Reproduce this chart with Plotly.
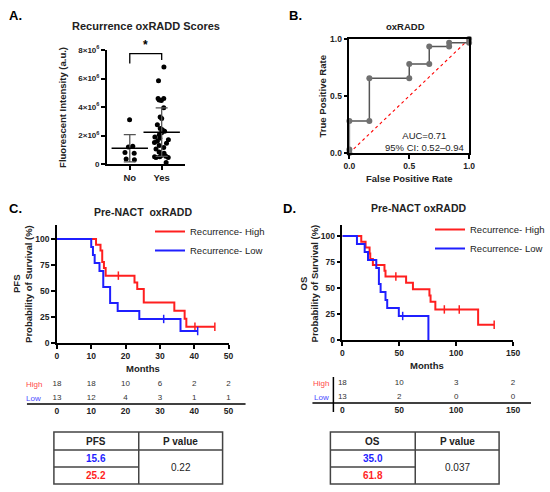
import numpy as np
import plotly.graph_objects as go

W, H = 550, 492
FONT = "Arial, Liberation Sans, sans-serif"
RED = "#ff1f1f"
BLUE = "#1f1fff"

# ---------------- data ----------------
# A. recurrence oxRADD scores (units of 10^6 a.u.)
groups = ["No", "Yes"]
no_scores = [3.1, 1.25, 1.2, 0.8, 0.75, 0.35, 0.3]
yes_scores = [6.8, 5.85, 4.6, 4.6, 4.5, 4.45, 3.95, 3.3, 3.2, 2.75, 2.5, 2.4, 2.3,
              2.2, 2.05, 1.9, 1.8, 1.7, 1.6, 1.5, 1.45, 1.3, 1.15, 1.05, 0.85,
              0.75, 0.6, 0.55, 0.5, 0.5, 0.45, 0.45, 0.1]

# B. ROC curve
roc_fpr = [0, 0, 0, 0.167, 0.167, 0.5, 0.5, 0.667, 0.667, 0.833, 0.833, 1, 1]
roc_tpr = [0, 0.03, 0.28, 0.28, 0.655, 0.655, 0.78, 0.78, 0.935, 0.935, 0.968, 0.968, 1.0]
auc_label = "AUC=0.71<br>95% CI: 0.52\u20130.94"

# C. PFS Kaplan-Meier
pfs_high_t = [0, 11.4, 12.7, 13.2, 13.7, 14.2, 22.6, 23.4, 25.3, 34.2, 37.2, 37.7, 46.0]
pfs_high_s = [100, 94.4, 88.9, 77.8, 72.2, 64.8, 58.3, 51.9, 38.9, 31.1, 23.3, 15.6, 15.6]
pfs_high_cens_t = [17.9, 40.2, 46.0]
pfs_high_cens_s = [64.8, 15.6, 15.6]
pfs_low_t = [0, 10.0, 10.5, 11.0, 12.4, 13.5, 15.5, 17.7, 24.0, 36.0, 41.0]
pfs_low_s = [100, 92.3, 84.6, 76.9, 69.2, 53.8, 38.5, 30.8, 23.1, 11.5, 11.5]
pfs_low_cens_t = [31.1, 41.0]
pfs_low_cens_s = [23.1, 11.5]
pfs_risk_months = [0, 10, 20, 30, 40, 50]
pfs_risk_high = [18, 18, 10, 6, 2, 2]
pfs_risk_low = [13, 12, 4, 3, 1, 1]
pfs_medians = ["15.6", "25.2"]
pfs_p = "0.22"

# D. OS Kaplan-Meier
os_high_t = [0, 16.6, 20.4, 23.9, 24.5, 26.8, 37.0, 37.9, 56.0, 62.0, 76.5, 77.5, 81.7, 119.3, 133.4]
os_high_s = [100, 94.4, 88.9, 83.3, 77.8, 72.2, 66.7, 61.1, 55.0, 48.9, 42.8, 36.7, 29.4, 14.7, 14.7]
os_high_cens_t = [47.0, 89.6, 102.7, 133.4]
os_high_cens_s = [61.1, 29.4, 29.4, 14.7]
os_low_t = [0, 12.8, 19.6, 22.5, 29.8, 32.1, 33.6, 37.9, 39.4, 49.6, 75.6]
os_low_s = [100, 92.3, 84.6, 76.9, 69.2, 53.8, 46.2, 38.5, 30.8, 23.1, 0]
os_low_cens_t = [53.0]
os_low_cens_s = [23.1]
os_risk_months = [0, 50, 100, 150]
os_risk_high = [18, 10, 3, 2]
os_risk_low = [13, 2, 0, 0]
os_medians = ["35.0", "61.8"]
os_p = "0.037"


def fx(p):
    return p / W


def fy(p):
    return 1 - p / H


axis_style = dict(showline=True, linecolor="black", linewidth=1.5, ticks="outside",
                  ticklen=4, tickwidth=1.5, tickcolor="black", showgrid=False,
                  zeroline=False, automargin=False,
                  tickfont=dict(family=FONT, size=8.5, color="#222", weight=700))

fig = go.Figure()

# ---------------- A ----------------
for i, vals in enumerate([no_scores, yes_scores]):
    fig.add_trace(go.Box(x=[i] * len(vals), y=np.array(vals) * 1e6, boxpoints="all",
                         jitter=0.9, pointpos=0, width=0.62, orientation="v",
                         fillcolor="rgba(0,0,0,0)", line=dict(width=0, color="rgba(0,0,0,0)"),
                         marker=dict(color="black", size=5), showlegend=False,
                         xaxis="x", yaxis="y"))
means = [np.mean(no_scores) * 1e6, np.mean(yes_scores) * 1e6]
sds = [np.std(no_scores, ddof=1) * 1e6, np.std(yes_scores, ddof=1) * 1e6]
fig.add_trace(go.Scatter(x=[0, 1], y=means, mode="markers", showlegend=False,
                         marker=dict(symbol="line-ew", size=26, line=dict(width=1.5, color="black")),
                         error_y=dict(type="data", array=sds, color="#555", thickness=1.3, width=6),
                         xaxis="x", yaxis="y"))

fig.update_layout(
    xaxis=dict(axis_style, domain=[fx(107), fx(185)], range=[-0.72, 1.72], tickvals=[0, 1],
               ticktext=groups, anchor="y",
               tickfont=dict(family=FONT, size=9.5, color="#222", weight=700)),
    yaxis=dict(axis_style, domain=[fy(164), fy(50)], range=[0, 8e6], anchor="x",
               tickvals=[0, 2e6, 4e6, 6e6, 8e6],
               ticktext=["0"] + [f"{k}\u00d710<sup>6</sup>" for k in (2, 4, 6, 8)],
               tickfont=dict(family=FONT, size=8, color="#222", weight=700)),
)
fig.add_shape(type="path", xref="x", yref="y", line=dict(color="black", width=1.3),
              path=f"M 0,{7.05e6} L 0,{7.75e6} L 1,{7.75e6} L 1,{7.3e6}")

# ---------------- B ----------------
fig.add_trace(go.Scatter(x=[0, 1], y=[0, 1], mode="lines", showlegend=False,
                         line=dict(color="red", width=1.1, dash="dot"), xaxis="x2", yaxis="y2"))
fig.add_trace(go.Scatter(x=roc_fpr, y=roc_tpr, mode="lines+markers", showlegend=False,
                         line=dict(color="#555", width=1.5),
                         marker=dict(color="#707070", size=6), cliponaxis=False,
                         xaxis="x2", yaxis="y2"))
fig.update_layout(
    xaxis2=dict(axis_style, domain=[fx(350), fx(470)], range=[0, 1], mirror=True, anchor="y2",
                tickvals=[0, 0.5, 1], ticktext=["0.0", "0.5", "1.0"]),
    yaxis2=dict(axis_style, domain=[fy(153), fy(39)], range=[0, 1], mirror=True, anchor="x2",
                tickvals=[0, 0.5, 1], ticktext=["0.0", "0.5", "1.0"]),
)


# ---------------- C / D survival ----------------
def km(t, s, ct, cs, color, name, xa, ya, lg):
    fig.add_trace(go.Scatter(x=t, y=s, mode="lines", line_shape="hv", name=name,
                             line=dict(color=color, width=2), legend=lg, cliponaxis=False,
                             xaxis=xa, yaxis=ya))
    fig.add_trace(go.Scatter(x=ct, y=cs, mode="markers", showlegend=False, cliponaxis=False,
                             marker=dict(symbol="line-ns-open", size=6, color=color,
                                         line=dict(color=color, width=1.5)),
                             xaxis=xa, yaxis=ya))


km(pfs_high_t, pfs_high_s, pfs_high_cens_t, pfs_high_cens_s, RED, "Recurrence- High", "x3", "y3", "legend")
km(pfs_low_t, pfs_low_s, pfs_low_cens_t, pfs_low_cens_s, BLUE, "Recurrence- Low", "x3", "y3", "legend")
km(os_high_t, os_high_s, os_high_cens_t, os_high_cens_s, RED, "Recurrence- High", "x4", "y4", "legend2")
km(os_low_t, os_low_s, os_low_cens_t, os_low_cens_s, BLUE, "Recurrence- Low", "x4", "y4", "legend2")

legend_style = dict(font=dict(family=FONT, size=9.5, color="#222"), bgcolor="rgba(0,0,0,0)",
                    itemwidth=30, tracegroupgap=0, xanchor="left", yanchor="top")
fig.update_layout(
    legend=dict(legend_style, x=fx(150), y=fy(217)),
    legend2=dict(legend_style, x=fx(431), y=fy(215)),
    xaxis3=dict(axis_style, domain=[fx(57), fx(229)], range=[0, 50], dtick=10, anchor="y3"),
    yaxis3=dict(axis_style, domain=[fy(343), fy(225)], range=[0, 113.5], anchor="x3",
                tickvals=[0, 25, 50, 75, 100]),
    xaxis4=dict(axis_style, domain=[fx(343), fx(514)], range=[0, 150], dtick=50, anchor="y4"),
    yaxis4=dict(axis_style, domain=[fy(340), fy(225)], range=[0, 110.6], anchor="x4",
                tickvals=[0, 25, 50, 75, 100]),
)


# risk tables
def risk(months, high, low, xa, ya, dom, rng):
    for vals, yrow in ((high, 2.0), (low, 0.6)):
        fig.add_trace(go.Scatter(x=months, y=[yrow] * len(months), text=[str(v) for v in vals],
                                 mode="text", showlegend=False, cliponaxis=False,
                                 textfont=dict(family=FONT, size=8, color="#333"),
                                 xaxis=xa, yaxis=ya))
    fig.update_layout({
        "xaxis" + xa[1:]: dict(domain=dom, range=rng, tickvals=months, showline=False,
                               showgrid=False, zeroline=False, ticks="", anchor=ya,
                               automargin=False,
                               tickfont=dict(family=FONT, size=8.5, color="#222", weight=700)),
    })


risk(pfs_risk_months, pfs_risk_high, pfs_risk_low, "x5", "y5", [fx(57), fx(229)], [0, 50])
risk(os_risk_months, os_risk_high, os_risk_low, "x6", "y6", [fx(343), fx(514)], [0, 150])
fig.update_layout(
    yaxis5=dict(domain=[fy(404), fy(376)], range=[0, 2.8], visible=False, anchor="x5",
                automargin=False),
    yaxis6=dict(domain=[fy(403), fy(375)], range=[0, 2.8], visible=False, anchor="x6",
                automargin=False),
)

shapes = []


def pline(x0, y0, x1, y1, w=1.5, c="black"):
    shapes.append(dict(type="line", xref="paper", yref="paper", x0=fx(x0), y0=fy(y0),
                       x1=fx(x1), y1=fy(y1), line=dict(color=c, width=w)))


pline(47, 378, 47, 413)
pline(27, 404, 246, 404)
pline(334, 377, 334, 412)
pline(313, 403, 532, 403)

annotations = []


def text(x, y, s, size=10, bold=False, color="#222", angle=0, xanchor="center"):
    annotations.append(dict(x=fx(x), y=fy(y), xref="paper", yref="paper", text=s,
                            showarrow=False, textangle=angle, xanchor=xanchor, yanchor="middle",
                            font=dict(family=FONT, size=size, color=color,
                                      weight=700 if bold else 400)))


# median tables
def table(x0, xm, x1, y0, yh, ym, y1, head, meds, p):
    c = "#444"
    shapes.append(dict(type="rect", xref="paper", yref="paper", x0=fx(x0), x1=fx(x1),
                       y0=fy(y0), y1=fy(y1), line=dict(color=c, width=1.5)))
    pline(x0, yh, x1, yh, c=c)
    pline(xm, y0, xm, y1, c=c)
    pline(x0, ym, xm, ym, c=c)
    text((x0 + xm) / 2, (y0 + yh) / 2, head, 10, True)
    text((xm + x1) / 2, (y0 + yh) / 2, "P value", 10, True)
    text((x0 + xm) / 2, (yh + ym) / 2, meds[0], 10, True, BLUE)
    text((x0 + xm) / 2, (ym + y1) / 2, meds[1], 10, True, RED)
    text((xm + x1) / 2, (yh + y1) / 2, p, 10)


table(54, 139, 223, 432, 450, 467, 484, "PFS", pfs_medians, pfs_p)
table(331, 416, 500, 432, 450, 467, 484, "OS", os_medians, os_p)

# labels and titles
text(7, 15, "A.", 13, True, "black", xanchor="left")
text(288, 15, "B.", 13, True, "black", xanchor="left")
text(7, 208, "C.", 13, True, "black", xanchor="left")
text(282, 208, "D.", 13, True, "black", xanchor="left")
text(146, 26, "Recurrence oxRADD Scores", 11, True)
text(406, 26, "oxRADD", 9.5, True)
text(143, 212, "Pre-NACT  oxRADD", 10.5, True)
text(420, 208, "Pre-NACT oxRADD", 10.5, True)
text(62, 107, "Fluorescent Intensity (a.u.)", 9.5, True, angle=-90)
text(324, 96, "True Positive Rate", 9.5, True, angle=-90)
text(410, 178, "False Positive Rate", 9.5, True)
text(425, 142, auc_label, 9.5)
text(16, 284, "PFS", 9.5, True, angle=-90)
text(28, 284, "Probability of Survival (%)", 9.5, True, angle=-90)
text(304, 283, "OS", 9.5, True, angle=-90)
text(315, 283, "Probability of Survival (%)", 9.5, True, angle=-90)
text(143, 368, "Months", 9.5, True)
text(428, 365, "Months", 9.5, True)
text(34, 384, "High", 8, color="#ff4a4a")
text(34, 398, "Low", 8, color="#4a4aff")
text(322, 383, "High", 8, color="#ff4a4a")
text(322, 397, "Low", 8, color="#4a4aff")

fig.update_layout(
    width=W, height=H, margin=dict(l=0, r=0, t=0, b=0, pad=0),
    paper_bgcolor="white", plot_bgcolor="white",
    font=dict(family=FONT), shapes=shapes, annotations=annotations,
)
fig.add_annotation(x=0.5, y=7.75e6, xref="x", yref="y", text="*", showarrow=False,
                   yanchor="bottom", font=dict(family=FONT, size=12, color="black", weight=700))

# page body has a default 8px margin, drop it so the figure fills the window
fig.write_html("out.html", config={"displayModeBar": False},
               post_script="document.body.style.margin = '0px';")
